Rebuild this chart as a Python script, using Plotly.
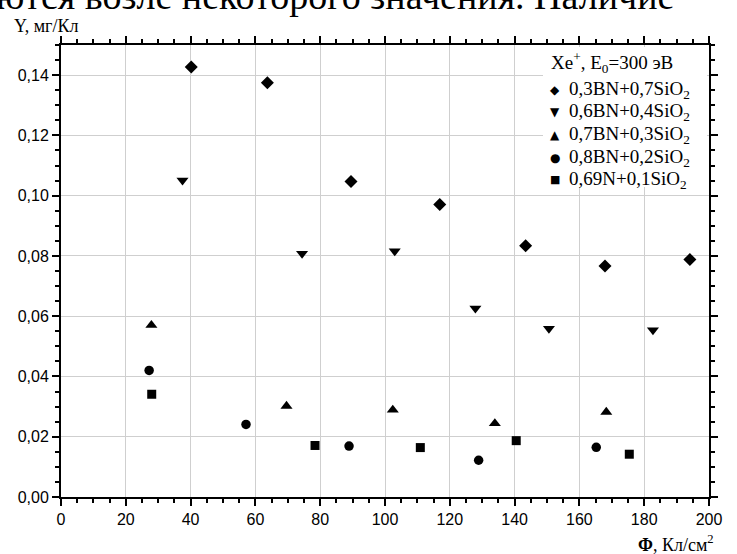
import plotly.graph_objects as go

# Sputtering yield Y (mg/C) versus ion fluence Φ (C/cm²) for BN–SiO2 ceramics
series_names = [
    "0,3BN+0,7SiO<sub>2</sub>",
    "0,6BN+0,4SiO<sub>2</sub>",
    "0,7BN+0,3SiO<sub>2</sub>",
    "0,8BN+0,2SiO<sub>2</sub>",
    "0,69N+0,1SiO<sub>2</sub>",
]
legend_title = "Xe<sup>+</sup>, E<sub>0</sub>=300 эВ"

phi_03 = [40.2, 63.7, 89.5, 116.9, 143.4, 167.9, 194.1]
y_03 = [0.1427, 0.1375, 0.1047, 0.0971, 0.0834, 0.0767, 0.0788]

phi_06 = [37.5, 74.4, 103.0, 127.9, 150.6, 182.7]
y_06 = [0.1051, 0.0808, 0.0816, 0.0626, 0.0559, 0.0554]

phi_07 = [27.9, 69.6, 102.4, 133.9, 168.3]
y_07 = [0.0570, 0.0302, 0.0289, 0.0244, 0.0282]

phi_08 = [27.2, 57.1, 88.9, 128.9, 165.2]
y_08 = [0.0420, 0.0241, 0.0169, 0.0122, 0.0165]

phi_069 = [28.0, 78.4, 110.9, 140.5, 175.4]
y_069 = [0.0341, 0.0171, 0.0164, 0.0187, 0.0142]

x_ticks = list(range(0, 201, 20))
y_ticks = [0.00, 0.02, 0.04, 0.06, 0.08, 0.10, 0.12, 0.14]

symbols = ["diamond", "triangle-down", "triangle-up", "circle", "square"]
sizes = [10, 10.5, 10.5, 9.5, 9]
glyphs = ["◆", "▼", "▲", "●", "■"]
glyph_sizes = [12, 12, 12, 12, 11]
xs = [phi_03, phi_06, phi_07, phi_08, phi_069]
ys = [y_03, y_06, y_07, y_08, y_069]

W, H = 737, 554
ML, MR, MT, MB = 61, 28, 45, 57
PW, PH = W - ML - MR, H - MT - MB


def px_x(p):
    return (p - ML) / PW


def px_y(p):
    return 1 - (p - MT) / PH


fig = go.Figure()
for name, sym, sz, xv, yv in zip(series_names, symbols, sizes, xs, ys):
    fig.add_trace(go.Scatter(
        x=xv, y=yv, mode="markers", name=name, showlegend=False,
        marker=dict(symbol=sym, size=sz, color="black", line=dict(width=0)),
    ))

serif = "Liberation Serif"
sans = "Liberation Sans"

annotations = []
# Legend block drawn as text
annotations.append(dict(
    xref="paper", yref="paper", x=px_x(549), y=px_y(63),
    xanchor="left", yanchor="middle", showarrow=False,
    text=legend_title, font=dict(family=serif, size=19, color="black"),
))
for i, (name, g, gs) in enumerate(zip(series_names, glyphs, glyph_sizes)):
    row_y = 90 + i * 22.5
    annotations.append(dict(
        xref="paper", yref="paper", x=px_x(555), y=px_y(row_y),
        xanchor="center", yanchor="middle", showarrow=False,
        text=g, font=dict(family="DejaVu Sans", size=gs, color="black"),
    ))
    annotations.append(dict(
        xref="paper", yref="paper", x=px_x(567), y=px_y(row_y),
        xanchor="left", yanchor="middle", showarrow=False,
        text=name, font=dict(family=serif, size=19, color="black"),
    ))

# Axis titles
annotations.append(dict(
    xref="paper", yref="paper", x=px_x(12), y=px_y(26),
    xanchor="left", yanchor="middle", showarrow=False,
    text="Y, мг/Кл", font=dict(family=serif, size=18, color="black"),
))
annotations.append(dict(
    xref="paper", yref="paper", x=px_x(716), y=px_y(543),
    xanchor="right", yanchor="middle", showarrow=False,
    text="<b>Φ</b>, Кл/см<sup>2</sup>", font=dict(family=serif, size=18, color="black"),
))
# Running text line above the chart
annotations.append(dict(
    xref="paper", yref="paper", x=px_x(-6), y=px_y(19),
    xanchor="left", yanchor="bottom", showarrow=False,
    text="ются возле некоторого значения. Наличие",
    font=dict(family=serif, size=38, color="black"),
))

axis_common = dict(
    showline=True, linewidth=2, linecolor="black", mirror="allticks",
    ticks="outside", ticklen=7, tickwidth=2, tickcolor="black",
    showgrid=True, gridcolor="#cfcfcf", gridwidth=1, zeroline=False,
    tickfont=dict(family=sans, size=16, color="black"),
)

fig.update_layout(
    width=W, height=H,
    margin=dict(l=ML, r=MR, t=MT, b=MB, pad=0),
    paper_bgcolor="white", plot_bgcolor="white",
    separators=", ",
    showlegend=False,
    xaxis=dict(
        range=[0, 200], tickvals=x_ticks, ticktext=[str(v) for v in x_ticks],
        minor=dict(dtick=5, ticks="outside", ticklen=4, tickwidth=2, tickcolor="black", showgrid=False),
        **axis_common,
    ),
    yaxis=dict(
        range=[0, 0.15], tickvals=y_ticks, tickformat=".2f",
        minor=dict(dtick=0.005, ticks="outside", ticklen=4, tickwidth=2, tickcolor="black", showgrid=False),
        **axis_common,
    ),
    annotations=annotations,
    shapes=[dict(
        type="rect", xref="paper", yref="paper", layer="above",
        x0=px_x(543), x1=px_x(707), y0=px_y(187), y1=px_y(47),
        fillcolor="white", line=dict(width=0),
    )],
)

fig.write_html("out.html")
